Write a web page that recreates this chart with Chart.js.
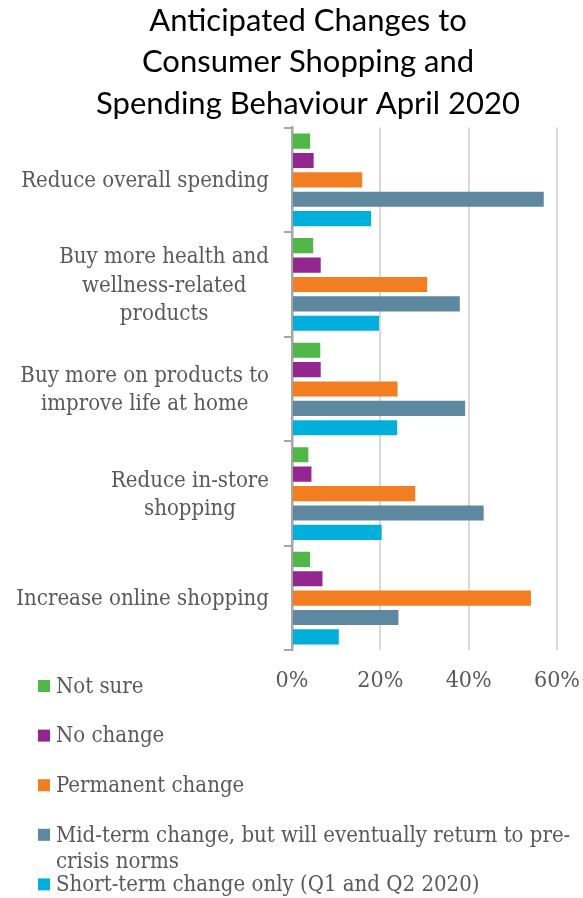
<!DOCTYPE html>
<html>
<head>
<meta charset="utf-8">
<script src="https://cdn.jsdelivr.net/npm/chart.js@4.4.0/dist/chart.umd.min.js"></script>
<style>
  html, body { margin: 0; padding: 0; background: #fff; }
</style>
</head>
<body>
<canvas id="myChart" width="583" height="898"></canvas>
<script>
// survey answers, percent of respondents
let categories = [
  ['Reduce overall spending'],
  ['Buy more health and', 'wellness-related', 'products'],
  ['Buy more on products to', 'improve life at home'],
  ['Reduce in-store', 'shopping'],
  ['Increase online shopping']
];
let seriesNames = [
  'Not sure',
  'No change',
  'Permanent change',
  'Mid-term change, but will eventually return to pre-crisis norms',
  'Short-term change only (Q1 and Q2 2020)'
];
let notSure = [4.1, 4.8, 6.4, 3.7, 4.1];
let noChange = [4.9, 6.5, 6.5, 4.4, 6.9];
let permanent = [15.9, 30.6, 23.9, 27.9, 54.1];
let midTerm = [57.0, 38.0, 39.2, 43.4, 24.1];
let shortTerm = [17.9, 19.7, 23.8, 20.3, 10.6];
let xTicks = [0, 20, 40, 60];

let colors = ['#50b848', '#93278f', '#f37e22', '#5e87a0', '#00afdb'];
let allSeries = [notSure, noChange, permanent, midTerm, shortTerm];

const serif = '"DejaVu Serif Condensed", "DejaVu Serif", serif';
const grey = '#595959';

// break a legend label after spaces or hyphens so it fits maxWidth
function wrapText(ctx, text, maxWidth) {
  let parts = text.match(/[^ -]+[ -]?/g);
  let lines = [];
  let cur = '';
  for (let i = 0; i < parts.length; i++) {
    let test = cur + parts[i];
    if (cur && ctx.measureText(test.trimEnd()).width > maxWidth) {
      lines.push(cur.trimEnd());
      cur = parts[i];
    } else {
      cur = test;
    }
  }
  if (cur) lines.push(cur.trimEnd());
  return lines;
}

// category names: each block sits right next to the axis, its lines centred
const categoryLabels = {
  id: 'categoryLabels',
  afterDraw(chart) {
    let ctx = chart.ctx;
    let yScale = chart.scales.y;
    let lineH = 28.5;
    ctx.save();
    ctx.font = '22px ' + serif;
    ctx.fillStyle = grey;
    ctx.textAlign = 'center';
    ctx.textBaseline = 'middle';
    chart.data.labels.forEach((lines, i) => {
      let cy = yScale.getPixelForValue(i) + 1.5;
      let widest = Math.max(...lines.map(l => ctx.measureText(l).width));
      let cx = yScale.right - 23 - widest / 2;
      let top = cy - (lines.length - 1) * lineH / 2;
      lines.forEach((l, j) => ctx.fillText(l, cx, top + j * lineH));
    });
    ctx.restore();
  }
};

// legend as a column in the lower left corner
const sideLegend = {
  id: 'sideLegend',
  afterDraw(chart) {
    let ctx = chart.ctx;
    ctx.save();
    ctx.font = '22px ' + serif;
    ctx.textBaseline = 'middle';
    ctx.textAlign = 'left';
    chart.data.datasets.forEach((ds, i) => {
      let y = 686 + i * 49.6;
      ctx.fillStyle = ds.backgroundColor;
      ctx.fillRect(38, y - 6, 12, 12);
      ctx.fillStyle = grey;
      let lines = wrapText(ctx, ds.label, 524);
      for (let j = 0; j < lines.length; j++) {
        ctx.fillText(lines[j], 56, y + 1 + j * 26);
      }
    });
    ctx.restore();
  }
};

let datasets = [];
for (let i = 0; i < seriesNames.length; i++) {
  datasets.push({
    label: seriesNames[i],
    data: allSeries[i],
    backgroundColor: colors[i],
    borderWidth: 0,
    categoryPercentage: 0.927,
    barPercentage: 0.78
  });
}

var ctx = document.getElementById('myChart').getContext('2d');
var myChart = new Chart(ctx, {
  type: 'bar',
  data: {
    labels: categories,
    datasets: datasets
  },
  plugins: [categoryLabels, sideLegend],
  options: {
    indexAxis: 'y',
    responsive: false,
    animation: false,
    layout: {
      padding: { left: 59, right: 26, top: 0, bottom: 200 }
    },
    plugins: {
      legend: { display: false },
      tooltip: { enabled: false },
      title: {
        display: true,
        text: ['Anticipated Changes to', 'Consumer Shopping and', 'Spending Behaviour April 2020'],
        color: '#000',
        font: { family: 'Lato, sans-serif', size: 31, weight: 'normal', lineHeight: 1.34 },
        padding: { top: 0, bottom: 3 }
      }
    },
    scales: {
      x: {
        min: 0,
        max: 60,
        afterBuildTicks(scale) {
          scale.ticks = xTicks.map(v => ({ value: v }));
        },
        // invisible tick marks push the labels down without widening the side padding
        grid: { color: '#d9d9d9', lineWidth: 2, drawTicks: true, tickLength: 14, tickColor: 'rgba(0,0,0,0)' },
        border: { display: false },
        ticks: {
          padding: 3,
          color: grey,
          font: { family: serif, size: 23 },
          callback: v => v + '%'
        }
      },
      y: {
        afterFit(scale) {
          scale.width = 233;
        },
        grid: {
          offset: true,
          drawOnChartArea: false,
          color: '#a6a6a6',
          lineWidth: 2,
          tickLength: 8
        },
        border: { color: '#a6a6a6', width: 2.5 },
        ticks: { display: false }
      }
    }
  }
});
</script>
</body>
</html>
